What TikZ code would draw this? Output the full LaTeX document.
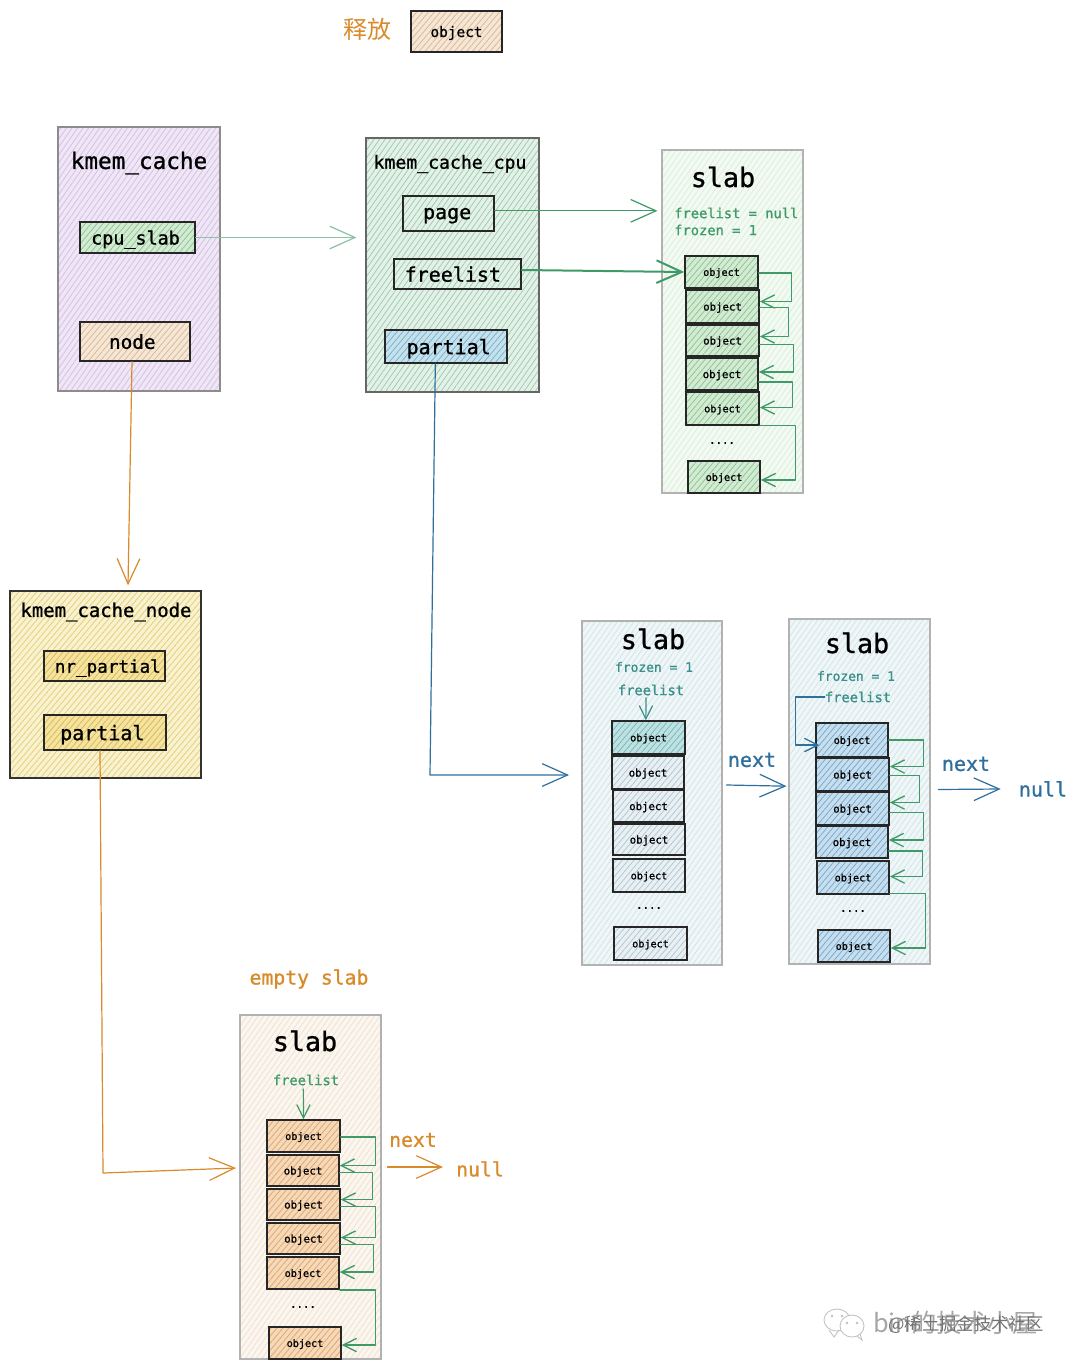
\documentclass[tikz,border=0pt]{standalone}
\usepackage{fontspec}
\setmainfont{DejaVu Sans}
\newfontfamily\monof[FakeBold=1]{DejaVu Sans Mono}
\newfontfamily\cjkf{Noto Sans CJK SC}
\usetikzlibrary{arrows.meta,patterns.meta,shapes.geometric}
\definecolor{cOrange}{HTML}{D98A2B}
\definecolor{cBlue}{HTML}{2E6F9E}
\definecolor{cGreen}{HTML}{3F9A68}
\definecolor{cTeal}{HTML}{3A8F8A}
\newcommand\fsz[1]{\monof\fontsize{#1}{#1}\selectfont}
\definecolor{HTML-purple}{HTML}{EFE6F6}\definecolor{HTML-purpleL}{HTML}{D4BEE6}
\definecolor{HTML-cpu}{HTML}{E4F1E8}\definecolor{HTML-cpuL}{HTML}{9CCBAD}
\definecolor{HTML-kn}{HTML}{F9F2CF}\definecolor{HTML-knL}{HTML}{E2CD78}
\definecolor{HTML-sg}{HTML}{F2FAF2}\definecolor{HTML-sgL}{HTML}{DAEEDC}
\definecolor{HTML-sb}{HTML}{EFF6F8}\definecolor{HTML-sbL}{HTML}{D3E3E8}
\definecolor{HTML-so}{HTML}{FBF6EF}\definecolor{HTML-soL}{HTML}{F0E0CE}
\definecolor{HTML-ig}{HTML}{D3EAD3}\definecolor{HTML-igL}{HTML}{8CC492}
\definecolor{HTML-ib}{HTML}{F5E6D6}\definecolor{HTML-ibL}{HTML}{D8B892}
\definecolor{HTML-io}{HTML}{F5D9B8}\definecolor{HTML-ioL}{HTML}{DFA56E}
\definecolor{HTML-iu}{HTML}{C6E1EC}\definecolor{HTML-iuL}{HTML}{72B2CC}
\definecolor{HTML-is}{HTML}{C6DEEE}\definecolor{HTML-isL}{HTML}{75A9CA}
\definecolor{HTML-iy}{HTML}{E8F0F3}\definecolor{HTML-iyL}{HTML}{B0C5CF}
\definecolor{HTML-it}{HTML}{C0E1E1}\definecolor{HTML-itL}{HTML}{74B8BA}
\definecolor{HTML-iw}{HTML}{F5E3A0}\definecolor{HTML-iwL}{HTML}{D8B755}
\tikzset{
  sketch/.style={postaction={draw,line width=.45pt,transform canvas={shift={(.55pt,-.45pt)}}}},
  hatch/.style n args={3}{preaction={fill=#1},pattern={Lines[angle=#3,distance=3.4pt,line width=.55pt]},pattern color=#2},
  parent/.style={draw=#1,line width=.8pt,sketch},
  inner/.style={draw=black!85,line width=1.15pt,sketch},
  pPurple/.style={parent=black!45,hatch={HTML-purple}{HTML-purpleL}{55}},
  pCpu/.style={parent=black!60,hatch={HTML-cpu}{HTML-cpuL}{55}},
  pNode/.style={parent=black!80,line width=1pt,hatch={HTML-kn}{HTML-knL}{50}},
  pSlabG/.style={parent=black!30,hatch={HTML-sg}{HTML-sgL}{55}},
  pSlabB/.style={parent=black!30,hatch={HTML-sb}{HTML-sbL}{55}},
  pSlabO/.style={parent=black!30,hatch={HTML-so}{HTML-soL}{55}},
  iGreen/.style={inner,hatch={HTML-ig}{HTML-igL}{50}},
  iBeige/.style={inner,hatch={HTML-ib}{HTML-ibL}{50}},
  iOrange/.style={inner,hatch={HTML-io}{HTML-ioL}{50}},
  iBlue/.style={inner,hatch={HTML-iu}{HTML-iuL}{50}},
  iSky/.style={inner,hatch={HTML-is}{HTML-isL}{50}},
  iGrey/.style={inner,hatch={HTML-iy}{HTML-iyL}{50}},
  iTeal/.style={inner,hatch={HTML-it}{HTML-itL}{50}},
  iYellow/.style={inner,hatch={HTML-iw}{HTML-iwL}{50}},
  iPlain/.style={inner},
  lbl/.style={inner sep=0pt},
  tipBig/.style={-{Straight Barb[length=19pt,width=17pt]}},
  tipSmall/.style={-{Straight Barb[length=10pt,width=10pt]}},
  conn/.style={line width=.9pt,line cap=round,line join=round},
  linkG/.style={conn,draw=cGreen,tipSmall,line width=1pt},
}
% box by its pixel corners
\newcommand\bx[7]{\node[#2,inner sep=0pt,text depth=0pt,minimum width={(#5-#3)*0.75pt},minimum height={(#6-#4)*0.75pt}] (#1) at ({(#3+#5)/2},{(#4+#6)/2}) {#7};}
% next-link between two objects of a slab
\newcommand\objlink[5]{\draw[linkG] ([yshift={(#2)*-0.75pt}]#1.east) -- ++(#3,0) |- ([yshift={(#5)*-0.75pt}]#4.east);}
\begin{document}
\begin{tikzpicture}[x=0.75pt,y=-0.75pt]
\useasboundingbox (0,0) rectangle (1080,1369);
\fill[white] (0,0) rectangle (1080,1369);

% legend
\node[lbl,text=cOrange,font=\cjkf\fontsize{18}{18}\selectfont] (legendT) at (367,29) {释放};
\bx{legendO}{iBeige}{411}{11}{502}{52}{\fsz{10.8}object}

% kmem_cache
\bx{kc}{pPurple}{58}{127}{220}{391}{}
\node[lbl,font=\fsz{17}] (kcT) at (139,163) {kmem\_cache};
\bx{kcCpu}{iGreen}{80}{222}{195}{253}{\fsz{13.8}cpu\_slab\kern3pt}
\bx{kcNode}{iBeige}{80}{322}{190}{361}{\fsz{14.5}node\kern4pt}

% kmem_cache_cpu
\bx{cc}{pCpu}{366}{138}{539}{392}{}
\node[lbl,font=\fsz{13.6}] (ccT) at (450,164) {kmem\_cache\_cpu};
\bx{ccPage}{iPlain}{403}{196}{494}{231}{\fsz{15}page\kern2pt}
\bx{ccFree}{iPlain}{394}{259}{521}{289}{\fsz{15}freelist\kern7pt}
\bx{ccPart}{iBlue}{385}{330}{507}{363}{\kern4pt\fsz{15}partial}

% slab 1
\bx{sA}{pSlabG}{662}{150}{803}{493}{}
\node[lbl,font=\fsz{20}] (sAT) at (723,177) {slab};
\node[lbl,anchor=west,text=cGreen,font=\fsz{10.3}] (sAF) at (674,213) {freelist = null};
\node[lbl,anchor=west,text=cGreen,font=\fsz{10.3}] (sAZ) at (674,230) {frozen = 1};
\bx{aA}{iGreen}{685}{256}{758}{288}{\fsz{7.6}object}
\bx{aB}{iGreen}{686}{290}{759}{323}{\fsz{8}object}
\bx{aC}{iGreen}{686}{325}{759}{356}{\fsz{8}object}
\bx{aD}{iGreen}{686}{358}{758}{390}{\fsz{8}object}
\bx{aE}{iGreen}{686}{392}{759}{425}{\fsz{7.6}object}
\node[lbl,font=\fsz{8}] (aDots) at (722,443) {....};
\bx{aF}{iGreen}{688}{461}{760}{493}{\fsz{7.6}object}

% kmem_cache_node
\bx{kn}{pNode}{10}{591}{201}{778}{}
\node[lbl,font=\fsz{14.2}] (knT) at (106,612) {kmem\_cache\_node};
\bx{knNr}{iYellow}{44}{651}{165}{681}{\kern5pt\fsz{13.2}nr\_partial}
\bx{knPart}{iYellow}{44}{715}{166}{750}{\fsz{15}partial\kern4pt}

% slab 2
\bx{sB}{pSlabB}{582}{621}{722}{965}{}
\node[lbl,font=\fsz{20}] (sBT) at (653,639) {slab};
\node[lbl,text=cTeal,font=\fsz{9.7}] (sBZ) at (654,667) {frozen = 1};
\node[lbl,text=cTeal,font=\fsz{10.3}] (sBF) at (651,690) {freelist};
\bx{bA}{iTeal}{612}{721}{685}{754}{\fsz{7.6}object}
\bx{bB}{iGrey}{612}{756}{684}{789}{\fsz{8}object}
\bx{bC}{iGrey}{613}{790}{684}{822}{\fsz{8}object}
\bx{bD}{iGrey}{613}{824}{685}{855}{\fsz{8}object}
\bx{bE}{iGrey}{613}{859}{685}{892}{\fsz{7.6}object}
\node[lbl,font=\fsz{8}] (bDots) at (649,908) {....};
\bx{bF}{iGrey}{614}{927}{687}{960}{\fsz{7.6}object}
\node[lbl,text=cBlue,font=\fsz{15}] (nextB) at (752,760) {next};

% slab 4
\bx{sC}{pSlabB}{789}{619}{930}{964}{}
\node[lbl,font=\fsz{20}] (sCT) at (857,643) {slab};
\node[lbl,text=cTeal,font=\fsz{9.7}] (sCZ) at (856,676) {frozen = 1};
\node[lbl,text=cTeal,font=\fsz{10.3}] (sCF) at (858,697) {freelist};
\bx{cA}{iSky}{816}{723}{888}{757}{\fsz{7.6}object}
\bx{cB}{iSky}{816}{758}{889}{791}{\fsz{8}object}
\bx{cC}{iSky}{816}{792}{889}{825}{\fsz{8}object}
\bx{cD}{iSky}{816}{826}{888}{858}{\fsz{8}object}
\bx{cE}{iSky}{817}{861}{889}{894}{\fsz{7.6}object}
\node[lbl,font=\fsz{8}] (cDots) at (853,911) {....};
\bx{cF}{iSky}{818}{930}{890}{962}{\fsz{7.6}object}
\node[lbl,text=cBlue,font=\fsz{15}] (nextC) at (966,764) {next};
\node[lbl,text=cBlue,font=\fsz{15}] (nullC) at (1043,789) {null};

% empty slab
\node[lbl,text=cOrange,font=\fsz{14.8}] (emptyT) at (309,979) {empty slab};
\bx{sD}{pSlabO}{240}{1015}{381}{1359}{}
\node[lbl,font=\fsz{20}] (sDT) at (305,1041) {slab};
\node[lbl,text=cGreen,font=\fsz{10.3}] (sDF) at (306,1080) {freelist};
\bx{dA}{iOrange}{267}{1120}{340}{1152}{\fsz{7.6}object}
\bx{dB}{iOrange}{267}{1155}{339}{1186}{\fsz{8}object}
\bx{dC}{iOrange}{267}{1189}{340}{1220}{\fsz{8}object}
\bx{dD}{iOrange}{267}{1223}{340}{1254}{\fsz{8}object}
\bx{dE}{iOrange}{267}{1257}{339}{1289}{\fsz{7.6}object}
\node[lbl,font=\fsz{8}] (dDots) at (303,1307) {....};
\bx{dF}{iOrange}{269}{1327}{341}{1359}{\fsz{7.6}object}
\node[lbl,text=cOrange,font=\fsz{14.8}] (nextD) at (413,1140) {next};
\node[lbl,text=cOrange,font=\fsz{14.8}] (nullD) at (480,1169) {null};

% connectors
\coordinate (elbA) at (430,775);
\coordinate (elbB) at (569,775);
\coordinate (elbC) at (103,1173);
\coordinate (elbD) at (236,1168);
\draw[conn,draw=cGreen!60,tipBig] (kcCpu.east) -- ([xshift=-6.75pt]kcCpu.east -| cc.west);
\draw[conn,draw=cGreen,tipBig] ([yshift=2pt]ccPage.east) -- ([xshift=-3pt,yshift=2pt]ccPage.east -| sA.west);
\draw[conn,draw=cGreen,tipBig,line width=1.5pt] ([yshift=3pt]ccFree.east) -- (aA.west);
\draw[conn,draw=cOrange,tipBig] ([xshift=-2.25pt]kcNode.south) -- ([xshift=-5.25pt,yshift=3.75pt]kn.north -| kcNode.south);
\draw[conn,draw=cOrange,tipBig] ([xshift=-3.75pt]knPart.south) -- (elbC) -- (elbD);
\draw[conn,draw=cBlue,tipBig] ([xshift=-8pt]ccPart.south) -- (elbA) -- (elbB);
\draw[conn,draw=cBlue,tipBig] ([xshift=3pt,yshift=6pt]sB.east) -- ([xshift=-1.5pt,yshift=4pt]sC.west);
\draw[conn,draw=cBlue,tipBig] ([xshift=6pt,yshift=1.5pt]sC.east) -- ([xshift=-13.5pt]nullC.west);
\draw[conn,draw=cOrange,tipBig] ([xshift=4.5pt,yshift=15pt]sD.east) -- ([xshift=-9.75pt,yshift=1.5pt]nullD.west);
\draw[conn,draw=cTeal,tipSmall] ([xshift=-3.75pt,yshift=-1.5pt]sBF.south) -- ([xshift=-2pt]bA.north);
\draw[conn,draw=cGreen,tipSmall] ([xshift=-2pt,yshift=-2.5pt]sDF.south) -- (dA.north);
\draw[conn,draw=cBlue,tipSmall,line width=1pt,shorten >=-3pt] (sCF.west) -- ++(-29,0) |- ([yshift=-3.75pt]cA.west);

\objlink{aA}{1}{33}{aB}{-5}
\objlink{aB}{1}{29}{aC}{-4}
\objlink{aC}{4}{34}{aD}{-2}
\objlink{aD}{8}{34}{aE}{-1}
\objlink{aE}{17}{36}{aF}{3}

\objlink{cA}{0}{35}{cB}{-8}
\objlink{cB}{1}{30}{cC}{-6}
\objlink{cC}{4}{34}{cD}{-2}
\objlink{cD}{9}{34}{cE}{-1}
\objlink{cE}{16}{36}{cF}{2}

\objlink{dA}{1}{35}{dB}{-5}
\objlink{dB}{2}{33}{dC}{-5}
\objlink{dC}{2}{35}{dD}{-1}
\objlink{dD}{6}{33}{dE}{-1}
\objlink{dE}{17}{36}{dF}{2}

% watermark
\begin{scope}[draw=black!25,line width=.6pt]
  \draw (837,1320) ellipse [x radius=13,y radius=11];
  \draw (839,1330) -- (834,1337) -- (829,1330);
  \filldraw[fill=white] (852,1326) ellipse [x radius=12,y radius=11];
  \draw (857,1336) -- (862,1340) -- (860,1334);
  \fill[black!25] (832,1316) circle (1.3) (842,1316) circle (1.3) (847,1323) circle (1.3) (857,1323) circle (1.3);
\end{scope}
\node[lbl,anchor=west,text=black!35,font=\fontsize{19}{19}\selectfont\cjkf] (wmA) at (873,1323) {bin的技术小屋};
\node[lbl,anchor=west,text=black!55,font=\fontsize{13}{13}\selectfont\cjkf] (wmB) at (888,1325) {@稀土掘金技术社区};
\end{tikzpicture}
\end{document}
